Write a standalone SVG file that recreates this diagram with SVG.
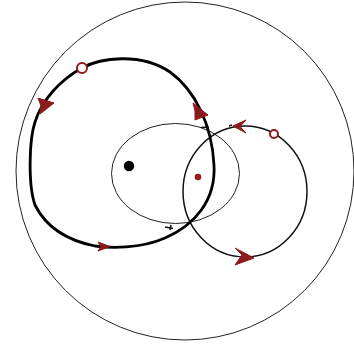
<svg xmlns="http://www.w3.org/2000/svg" width="354" height="345" viewBox="0 0 354 345">
<style>
.thin{fill:none;stroke:#222;stroke-width:1}
.mid{fill:none;stroke:#111;stroke-width:1.5}
.thick{fill:none;stroke:#000;stroke-width:2.8;stroke-linejoin:round}
.red{fill:#8b1a1a;stroke:#8b1a1a;stroke-width:1;stroke-linejoin:round}
.open{fill:#fff;stroke:#8b1a1a;stroke-width:2}
.tick{fill:none;stroke:#111;stroke-width:1.6}
</style>
<rect width="354" height="345" fill="#fff"/>
<g id="outer"><circle class="thin" cx="185" cy="171" r="169"/></g>
<g id="ellipse"><ellipse class="thin" cx="175.5" cy="173.5" rx="64" ry="50"/></g>
<g id="rightCircle"><ellipse class="mid" cx="245" cy="191.5" rx="62" ry="65.5"/></g>
<g id="loop"><path class="thick" d="M82,68 C100,58 140,52 170,72 C195,90 212,125 214,165 C216,200 195,225 165,238 C140,249 110,248 95,246 C65,240 45,225 35,205 C28,185 29,140 35,122 C42,100 60,80 82,68 Z"/></g>
<g id="dots">
<circle cx="129" cy="166" r="5.2" fill="#000"/>
<circle cx="198" cy="177" r="3.3" fill="#a01818"/>
</g>
<g id="connectors">
<polygon class="red" points="38,98 54,103 40,114 41,106"/>
<polygon class="red" points="98,242 110,246.5 98,251 101,246.5"/>
<polygon class="red" points="193,103 208,115 195,120 195,111"/>
<polygon class="red" points="233,126 246,120 240,126.5 246,133"/>
<polygon class="red" points="254,258 235,248 242,255 235,265"/>
<path class="tick" d="M201,127.5 L209,127 M229,126 L232,125"/>
<path class="tick" d="M165,227 L173,228.5 M171,225 L170,230"/>
</g>
<g id="markers">
<circle class="open" cx="82" cy="68" r="5"/>
<circle class="open" cx="274" cy="134" r="4"/>
</g>
</svg>
